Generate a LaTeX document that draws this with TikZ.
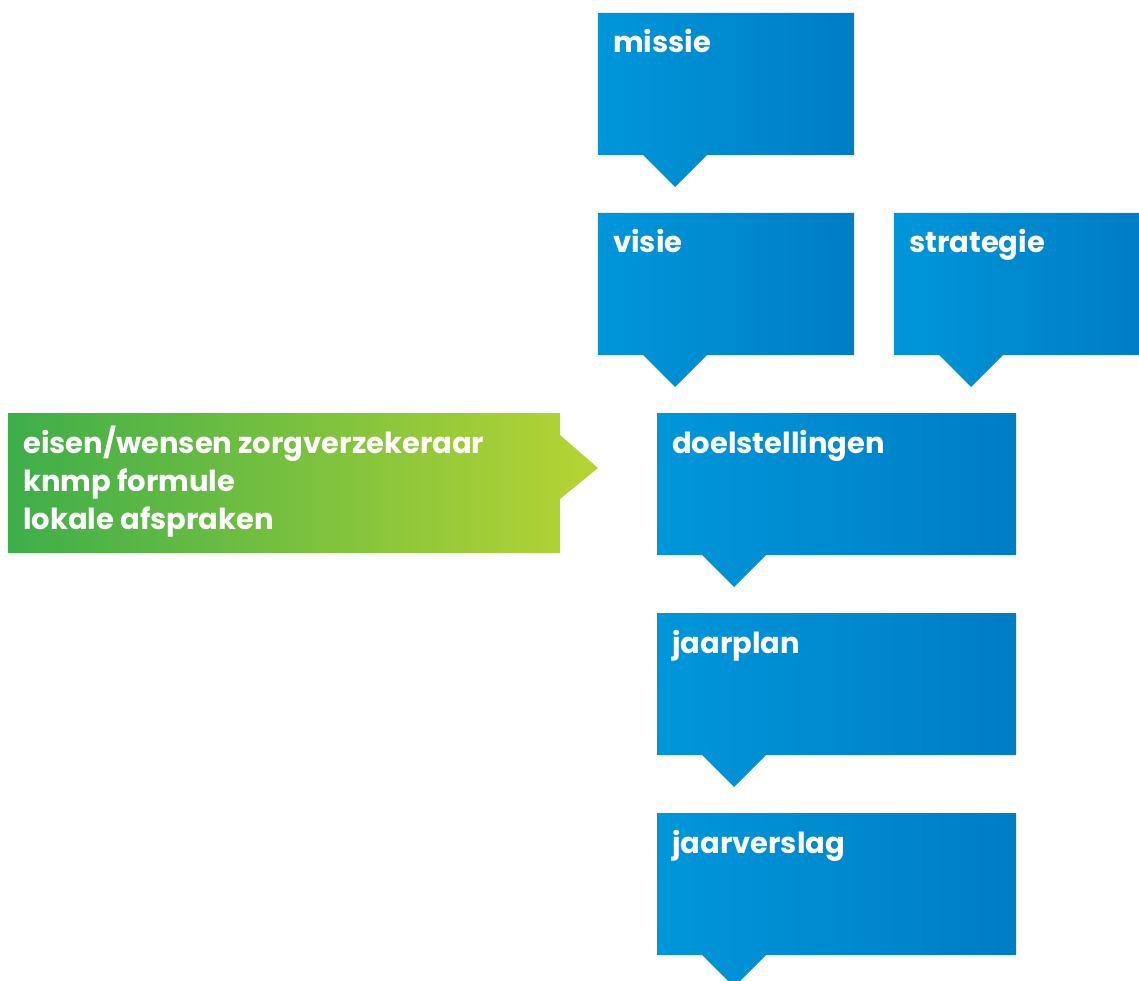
\documentclass[tikz,border=0pt]{standalone}
\usepackage{fontspec}
\setmainfont{Poppins}

\definecolor{blueLeft}{HTML}{0096DA}
\definecolor{blueRight}{HTML}{007DC4}
\definecolor{greenLeft}{HTML}{3DAE4A}
\definecolor{greenRight}{HTML}{B8D433}

\tikzset{
  bluebox/.style={left color=blueLeft, right color=blueRight},
  greenbox/.style={left color=greenLeft, right color=greenRight},
  boxlabel/.style={anchor=base west, text=white, inner sep=0pt, align=left,
    font=\bfseries\fontsize{29}{38}\selectfont},
}

% blue callout: left, top, right, centre of the pointer
\newcommand{\callout}[4]{%
  \shade[bluebox] (#1,#2) -- (#3,#2) -- (#3,#2+142) -- (#4+32,#2+142)
    -- (#4,#2+174) -- (#4-32,#2+142) -- (#1,#2+142) -- cycle;
}

\begin{document}
\begin{tikzpicture}[x=1pt,y=-1pt]
    \useasboundingbox (0,0) rectangle (1139,981);
    \clip (0,0) rectangle (1139,981);

    \callout{598}{13}{854}{675}
    \node[boxlabel] (missie) at (613,53) {missie};

    \callout{598}{213}{854}{675}
    \node[boxlabel] (visie) at (613,253) {visie};

    \callout{894}{213}{1139}{971}
    \node[boxlabel] (strategie) at (909,253) {strategie};

    \callout{657}{413}{1016}{734}
    \node[boxlabel] (doelen) at (672,453) {doelstellingen};

    \callout{657}{613}{1016}{734}
    \node[boxlabel] (jaarplan) at (672,653) {jaarplan};

    \callout{657}{813}{1016}{734}
    \node[boxlabel] (jaarverslag) at (672,853) {jaarverslag};

    % green input arrow (base of the text is its last line)
    \shade[greenbox] (8,413) -- (560,413) -- (560,435) -- (598,468)
      -- (560,499) -- (560,553) -- (8,553) -- cycle;
    \node[boxlabel] (eisen) at (23,529)
      {eisen/wensen zorgverzekeraar\\knmp formule\\lokale afspraken};
\end{tikzpicture}
\end{document}
